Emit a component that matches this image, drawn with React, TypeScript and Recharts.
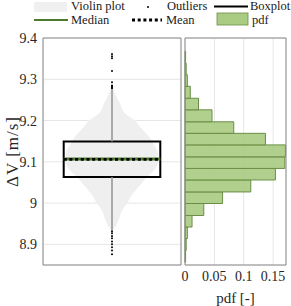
import React from 'react';
import {
  ComposedChart,
  Area,
  Scatter,
  XAxis,
  YAxis,
  CartesianGrid,
  ReferenceArea,
  ReferenceLine,
  Label,
} from 'recharts';

// value axis
const yTicks = [8.9, 9, 9.1, 9.2, 9.3, 9.4];
const yDomain = [8.85, 9.4];
const pdfTicks = [0, 0.05, 0.1, 0.15];

// violin outline: value and half width (in x units, violin sits at x = 1)
const violinValues = [8.93, 8.94, 8.96, 8.98, 9.0, 9.02, 9.04, 9.06, 9.08, 9.1, 9.12, 9.14, 9.16, 9.18, 9.2, 9.22, 9.24, 9.26, 9.28];
const violinHalfWidth = [0, 0.04, 0.1, 0.14, 0.22, 0.29, 0.39, 0.49, 0.61, 0.67, 0.67, 0.61, 0.54, 0.43, 0.33, 0.17, 0.12, 0.06, 0];

// boxplot stats
const q1 = 9.063;
const q3 = 9.149;
const median = 9.107;
const mean = 9.106;
const whiskerLow = 8.935;
const whiskerHigh = 9.276;
const outlierValues = [
  9.361, 9.356, 9.351, 9.32, 9.293, 9.285, 9.283, 9.28, 9.278,
  8.932, 8.927, 8.92, 8.915, 8.907, 8.9, 8.893, 8.885, 8.876,
];

// histogram (pdf)
const binEdges = [8.857, 8.885, 8.914, 8.942, 8.97, 8.999, 9.027, 9.056, 9.084, 9.112, 9.141, 9.169, 9.197, 9.226, 9.254, 9.283, 9.311, 9.339, 9.368];
const pdfValues = [0.001, 0.002, 0.004, 0.012, 0.032, 0.064, 0.112, 0.154, 0.17, 0.171, 0.137, 0.083, 0.046, 0.023, 0.009, 0.004, 0.002, 0.001];

const FONT = "'Liberation Serif', 'DejaVu Serif', serif";
const GREEN = '#a9cb82';
const GREEN_EDGE = '#6b8e45';
const MEDIAN_GREEN = '#4e7a2f';
const GRID = '#e6e6e6';
const FRAME = '#8a8a8a';
const TEXT = '#262626';

const violinData = violinValues.map((v, i) => ({
  v,
  range: [1 - violinHalfWidth[i], 1 + violinHalfWidth[i]],
}));
const outlierData = outlierValues.map((v) => ({ x: 1, v }));
const bins = pdfValues.map((p, i) => ({ lo: binEdges[i], hi: binEdges[i + 1], p }));

const tickStyle = { fontFamily: FONT, fontSize: 14, fill: TEXT };

const LegendBox = () => (
  <svg width={291} height={30} style={{ position: 'absolute', left: 0, top: 0 }}>
    <g style={{ fontFamily: FONT, fontSize: 12.5 }} fill="#1a1a1a">
      <rect x={34} y={2} width={33} height={10} fill="#f0f0f0" />
      <text x={71} y={10}>Violin plot</text>
      <circle cx={148} cy={7} r={1} fill="#000" />
      <text x={167} y={10}>Outliers</text>
      <line x1={214} x2={248} y1={6.5} y2={6.5} stroke="#000" strokeWidth={2} />
      <text x={250} y={10}>Boxplot</text>
      <line x1={34} x2={68} y1={20} y2={20} stroke={MEDIAN_GREEN} strokeWidth={2} />
      <text x={71} y={24}>Median</text>
      <line x1={132} x2={162} y1={20} y2={20} stroke="#000" strokeWidth={3} strokeDasharray="3 2.7" />
      <text x={166} y={24}>Mean</text>
      <rect x={217} y={13} width={31} height={12} fill={GREEN} stroke={GREEN_EDGE} strokeWidth={0.8} />
      <text x={252} y={24}>pdf</text>
    </g>
  </svg>
);

const App: React.FC = () => {
  return (
    <div style={{ position: 'absolute', left: 0, top: 0, width: 291, height: 306, background: '#fff', fontFamily: FONT }}>
      <LegendBox />

      <div style={{ position: 'absolute', left: 0, top: 0 }}>
        <ComposedChart
          width={185}
          height={306}
          layout="vertical"
          data={violinData}
          margin={{ top: 38, right: 4, bottom: 21, left: 3 }}
        >
          <CartesianGrid stroke={GRID} />
          <XAxis type="number" domain={[0, 2]} ticks={[1]} allowDataOverflow tick={false} axisLine={false} tickLine={false} height={20} />
          <YAxis
            type="number"
            dataKey="v"
            domain={yDomain}
            ticks={yTicks}
            reversed
            allowDataOverflow
            width={40}
            axisLine={false}
            tickLine={false}
            tickSize={0}
            tickMargin={6}
            tick={tickStyle}
          >
            <Label
              value="ΔV [m/s]"
              angle={-90}
              position="insideLeft"
              offset={9}
              style={{ textAnchor: 'middle', fontFamily: FONT, fontSize: 17, fill: TEXT, letterSpacing: 1 }}
            />
          </YAxis>
          <Area
            dataKey="range"
            type="monotone"
            fill="#efefef"
            fillOpacity={1}
            stroke="none"
            isAnimationActive={false}
          />
          <ReferenceLine segment={[{ x: 1, y: q3 }, { x: 1, y: whiskerHigh }]} stroke="#999" strokeWidth={1.6} />
          <ReferenceLine segment={[{ x: 1, y: whiskerLow }, { x: 1, y: q1 }]} stroke="#999" strokeWidth={1.6} />
          <ReferenceArea x1={0.3} x2={1.7} y1={q1} y2={q3} fill="none" stroke="#000" strokeWidth={2} />
          <ReferenceLine segment={[{ x: 0.3, y: median }, { x: 1.7, y: median }]} stroke={MEDIAN_GREEN} strokeWidth={3} />
          <ReferenceLine segment={[{ x: 0.3, y: mean }, { x: 1.7, y: mean }]} stroke="#000" strokeWidth={2.6} strokeDasharray="3 2.7" />
          <Scatter data={outlierData} dataKey="x" fill="#000" shape={(p: any) => <circle cx={p.cx} cy={p.cy} r={1} fill="#000" />} isAnimationActive={false} />
          <ReferenceArea x1={0} x2={2} y1={yDomain[0]} y2={yDomain[1]} fill="none" stroke={FRAME} strokeWidth={1} />
        </ComposedChart>
      </div>

      <div style={{ position: 'absolute', left: 180, top: 0 }}>
        <ComposedChart
          width={111}
          height={306}
          layout="vertical"
          data={bins}
          margin={{ top: 38, right: 5, bottom: 0, left: 5 }}
        >
          <CartesianGrid stroke={GRID} />
          <XAxis
            type="number"
            domain={[0, 0.172]}
            ticks={pdfTicks}
            allowDataOverflow
            axisLine={false}
            tickLine={false}
            tickSize={0}
            tickMargin={6}
            height={41}
            tick={tickStyle}
            interval={0}
          >
            <Label value="pdf [-]" position="insideBottom" offset={3} style={{ fontFamily: FONT, fontSize: 15, fill: TEXT }} />
          </XAxis>
          <YAxis type="number" dataKey="lo" domain={yDomain} ticks={yTicks} reversed allowDataOverflow width={0} tick={false} axisLine={false} tickLine={false} />
          {bins.map((b, i) => (
            <ReferenceArea
              key={i}
              x1={0}
              x2={b.p}
              y1={b.lo}
              y2={b.hi}
              fill={GREEN}
              fillOpacity={0.9}
              stroke={GREEN_EDGE}
              strokeWidth={1}
            />
          ))}
          <ReferenceArea x1={0} x2={0.172} y1={yDomain[0]} y2={yDomain[1]} fill="none" stroke={FRAME} strokeWidth={1} />
        </ComposedChart>
      </div>
    </div>
  );
};

export default App;
